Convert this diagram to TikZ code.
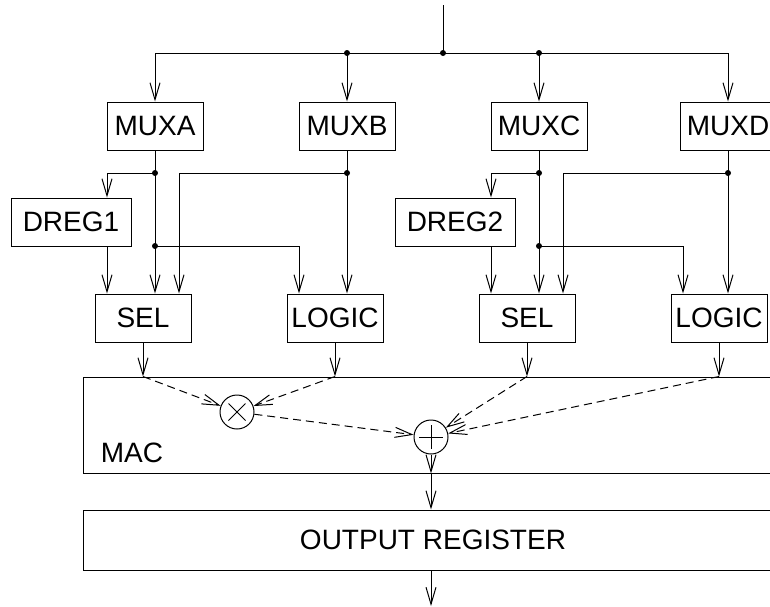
\documentclass[tikz,border=0pt]{standalone}
\usepackage{fontspec}
\setmainfont{Liberation Sans}
\usetikzlibrary{arrows.meta,positioning,calc}

\begin{document}
\begin{tikzpicture}[x=1pt,y=-1pt,line width=1pt,
  font=\fontsize{28}{33}\selectfont,
  blk/.style={draw,minimum width=96pt,minimum height=48pt,inner sep=0pt},
  reg/.style={blk,minimum width=120pt},
  wide/.style={blk,minimum width=700pt},
  op/.style={draw,circle,minimum size=34pt,inner sep=0pt},
  arr/.style={-{Straight Barb[length=17pt,width=10pt]}},
  arr2/.style={arr,dash pattern=on 8pt off 5pt}
]
\useasboundingbox (0,0) rectangle (770,606);
\clip (0,0) rectangle (770,606);

% blocks
\node[blk] (muxa)   at (155,126) {MUXA};
\node[blk] (muxb)   at (347,126) {MUXB};
\node[blk] (muxc)   at (539,126) {MUXC};
\node[blk] (muxd)   at (728,126) {MUXD};
\node[reg] (dreg1)  at (71,222)  {DREG1};
\node[reg] (dreg2)  at (455,222) {DREG2};
\node[blk] (sel1)   at (143,318) {SEL};
\node[blk] (logic1) at (335,318) {LOGIC};
\node[blk] (sel2)   at (527,318) {SEL};
\node[blk] (logic2) at (719,318) {LOGIC};
\node[draw,minimum width=707pt,minimum height=96pt] (mac) at (436.5,425) {};
\node[anchor=base west] (maclbl) at (97,462) {MAC};
\node[op] (mul) at (237,412) {};
\node[op] (add) at (431,437) {};
\node[wide,minimum height=60pt] (outreg) at (433,540) {OUTPUT REGISTER};

% operator signs
\draw ([shift={(-8.5pt,8.5pt)}]mul.center) -- ([shift={(8.5pt,-8.5pt)}]mul.center);
\draw ([shift={(-8.5pt,-8.5pt)}]mul.center) -- ([shift={(8.5pt,8.5pt)}]mul.center);
\draw ([xshift=-12pt]add.center) -- ([xshift=12pt]add.center);
\draw ([yshift=-12pt]add.center) -- ([yshift=12pt]add.center);

% input bus
\coordinate (in)  at (443,5);
\coordinate (jin) at (443,53);
\coordinate (jb)  at (347,53);
\coordinate (jc)  at (539,53);
\draw (in) -- (jin);
\draw[arr] (jin) -| (muxa);
\draw[arr] (jin) -| (muxd);
\draw[arr] (jb) -- (muxb);
\draw[arr] (jc) -- (muxc);
\fill (jin) circle (3) (jb) circle (3) (jc) circle (3);

% left half
\coordinate (ja1) at (muxa |- 0,173);
\coordinate (jb1) at (muxb |- 0,173);
\coordinate (ja2) at (muxa |- 0,246);
\draw[arr] (muxa) -- (muxa |- sel1.north);
\draw[arr] (ja1) -| ([xshift=36pt]dreg1.north);
\draw[arr] ([xshift=36pt]dreg1.south) -- ([xshift=-36pt]sel1.north);
\draw[arr] (jb1) -| ([xshift=36pt]sel1.north);
\draw[arr] (muxb) -- (muxb |- logic1.north);
\draw[arr] (ja2) -| ([xshift=-36pt]logic1.north);
\fill (ja1) circle (3) (jb1) circle (3) (ja2) circle (3);

% right half
\coordinate (jc1) at (muxc |- 0,173);
\coordinate (jd1) at (muxd |- 0,173);
\coordinate (jc2) at (muxc |- 0,246);
\draw[arr] (muxc) -- (muxc |- sel2.north);
\draw[arr] (jc1) -| ([xshift=36pt]dreg2.north);
\draw[arr] ([xshift=36pt]dreg2.south) -- ([xshift=-36pt]sel2.north);
\draw[arr] (jd1) -| ([xshift=36pt]sel2.north);
\draw[arr] (muxd) -- (muxd |- logic2.north);
\draw[arr] (jc2) -| ([xshift=-36pt]logic2.north);
\fill (jc1) circle (3) (jd1) circle (3) (jc2) circle (3);

% into the MAC
\draw[arr] (sel1)   -- (sel1 |- mac.north);
\draw[arr] (logic1) -- (logic1 |- mac.north);
\draw[arr] (sel2)   -- (sel2 |- mac.north);
\draw[arr] (logic2) -- (logic2 |- mac.north);
\draw[arr2] (sel1 |- mac.north)   -- (mul);
\draw[arr2] (logic1 |- mac.north) -- (mul);
\draw[arr2] (mul) -- (add);
\draw[arr2] (sel2 |- mac.north)   -- (add);
\draw[arr2] (logic2 |- mac.north) -- (add);

% output
\coordinate (out) at (431,606);
\draw[arr] (add) -- (add |- mac.south);
\draw[arr] (add |- mac.south) -- (add |- outreg.north);
\draw[arr] (add |- outreg.south) -- (out);
\end{tikzpicture}
\end{document}
